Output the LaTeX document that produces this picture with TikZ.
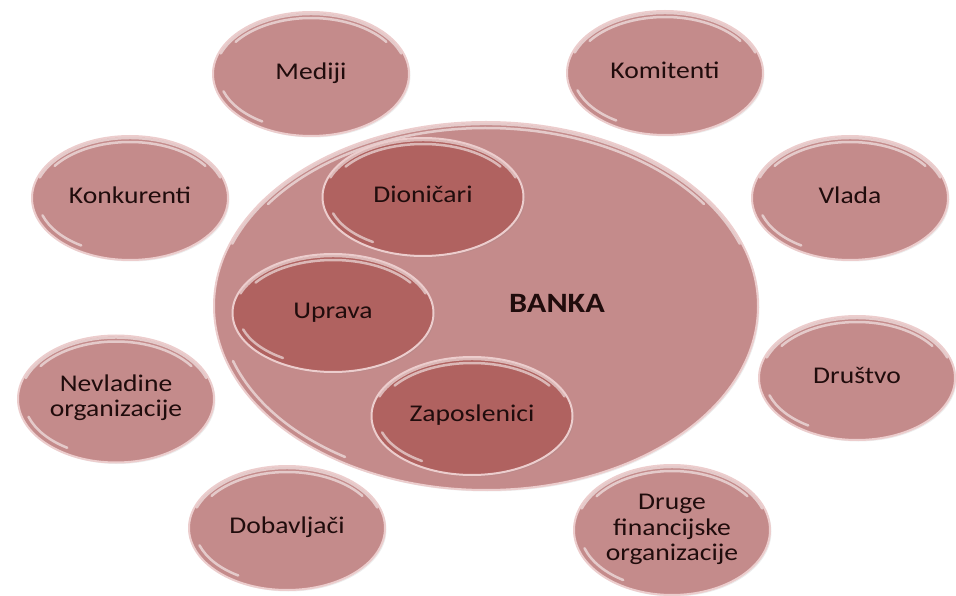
\documentclass[tikz,border=0pt]{standalone}
\usepackage{fontspec}
\usepackage{graphicx}
\setmainfont{Carlito}
\usetikzlibrary{shapes,shapes.geometric,shadows,calc}

\definecolor{outerfill}{RGB}{196,139,139}
\definecolor{innerfill}{RGB}{176,98,96}
\definecolor{rimcol}{RGB}{236,205,205}
\definecolor{glowcol}{RGB}{224,176,176}
\definecolor{textcol}{RGB}{32,12,12}

% text of the slide is a bit stretched sideways
\newcommand{\wide}[1]{\scalebox{1.15}[1]{\begin{tabular}{@{}c@{}}#1\end{tabular}}}

\begin{document}
\begin{tikzpicture}[x=1pt,y=1pt]
	\tikzstyle{every node}=[font=\fontsize{24}{25.5}\selectfont,text=textcol,align=center]
	\tikzstyle{gloss}=[path picture={
		\path let \p1=(path picture bounding box.north east), \p2=(path picture bounding box.center),
			\n1={\x1-\x2-6pt}, \n2={\y1-\y2-6pt}, \n3={\x1-\x2-2pt}, \n4={\y1-\y2-2pt},
			\n5={\x1-\x2-6pt}, \n6={\y1-\y2-6pt} in
			[draw=glowcol,opacity=0.45,line width=5pt] ($(\p2)+(20:\n3 and \n4)$)
				arc[start angle=20,end angle=160,x radius=\n3,y radius=\n4]
			[draw=glowcol,opacity=0.25,line width=5pt] ($(\p2)+(35:\n5 and \n6)$)
				arc[start angle=35,end angle=145,x radius=\n5,y radius=\n6]
			[draw=white,opacity=0.55,line width=2.5pt,line cap=round] ($(\p2)+(198:\n1 and \n2)$)
				arc[start angle=198,end angle=238,x radius=\n1,y radius=\n2];
		}]
	\tikzstyle{party}=[ellipse,gloss,fill=outerfill,draw=rimcol,line width=2.0000,inner sep=0pt,
		minimum width=196.0000,minimum height=124.0000,
		drop shadow={shadow xshift=1.5pt,shadow yshift=-1.5pt,opacity=0.15}]
	\tikzstyle{core}=[party,fill=innerfill,minimum width=201.0000,minimum height=118.0000]

	\useasboundingbox (0.0000,0.0000) rectangle (956.0000,595.0000);

	%% bank
	\node [party,minimum width=544.0000,minimum height=368.0000] (banka) at (486.0000,289.0000) {};
	\node [font=\fontsize{28}{30}\selectfont\bfseries] (bankalabel) at (557.0000,288.0000) {\wide{BANKA}};

	%% inside
	\node [core] (dionicari) at (423.0000,398.0000) {\wide{Dioničari}};
	\node [core] (uprava) at (333.0000,282.0000) {\wide{Uprava}};
	\node [core] (zaposlenici) at (472.0000,179.0000) {\wide{Zaposlenici}};

	%% outside
	\node [party] (mediji) at (311.0000,521.0000) {\wide{Mediji}};
	\node [party] (komitenti) at (665.0000,522.0000) {\wide{Komitenti}};
	\node [party] (konkurenti) at (130.0000,397.0000) {\wide{Konkurenti}};
	\node [party] (vlada) at (850.0000,397.0000) {\wide{Vlada}};
	\node [party,minimum height=127.0000] (nevladine) at (116.0000,196.0000) {\wide{Nevladine\\organizacije}};
	\node [party] (drustvo) at (857.0000,217.0000) {\wide{Društvo}};
	\node [party] (dobavljaci) at (287.0000,67.0000) {\wide{Dobavljači}};
	\node [party,minimum height=130.0000] (druge) at (672.0000,65.0000) {\wide{Druge\\financijske\\organizacije}};

\end{tikzpicture}
\end{document}
